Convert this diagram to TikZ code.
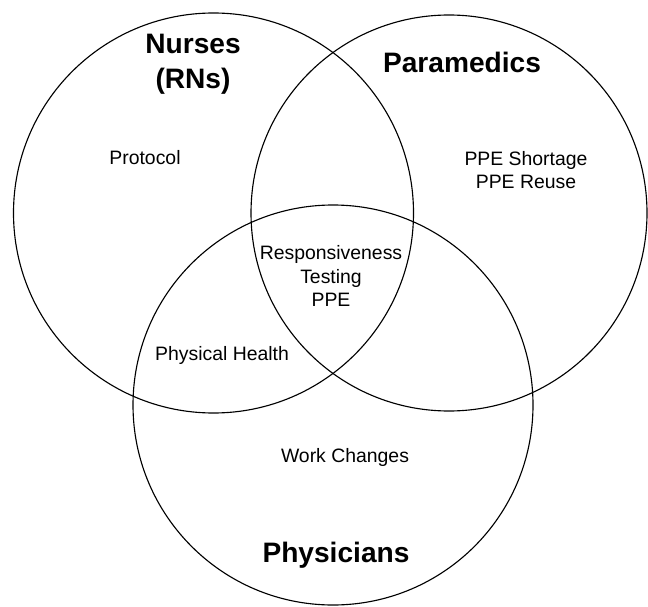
\documentclass[tikz,border=0pt]{standalone}
\usepackage{fontspec}
\setmainfont{Liberation Sans}
\usepackage{tikz}

\tikzset{
  ring/.style={line width=0.8pt},
  group/.style={font=\fontsize{20}{25}\selectfont\bfseries, align=center},
  item/.style={font=\fontsize{13.8}{16.5}\selectfont, align=center}
}

\begin{document}
\begin{tikzpicture}[x=0.025cm,y=0.025cm]
\useasboundingbox (0,0) rectangle (648,606);
\draw [ring] (213.5,393) circle[radius=200];
\draw [ring] (449,393) circle[radius=198];
\draw [ring] (333,201) circle[radius=200];
\node [group] (nurses) at (193,542) {Nurses\\(RNs)};
\node [group] (paramedics) at (462,544) {Paramedics};
\node [group] (physicians) at (336,51) {Physicians};
\node [item] (protocol) at (145,448) {Protocol};
\node [item] (ppe) at (526,436) {PPE Shortage\\PPE Reuse};
\node [item] (core) at (331,330) {Responsiveness\\Testing\\PPE};
\node [item] (health) at (222,251) {Physical Health};
\node [item] (work) at (345,149) {Work Changes};
\end{tikzpicture}
\end{document}
